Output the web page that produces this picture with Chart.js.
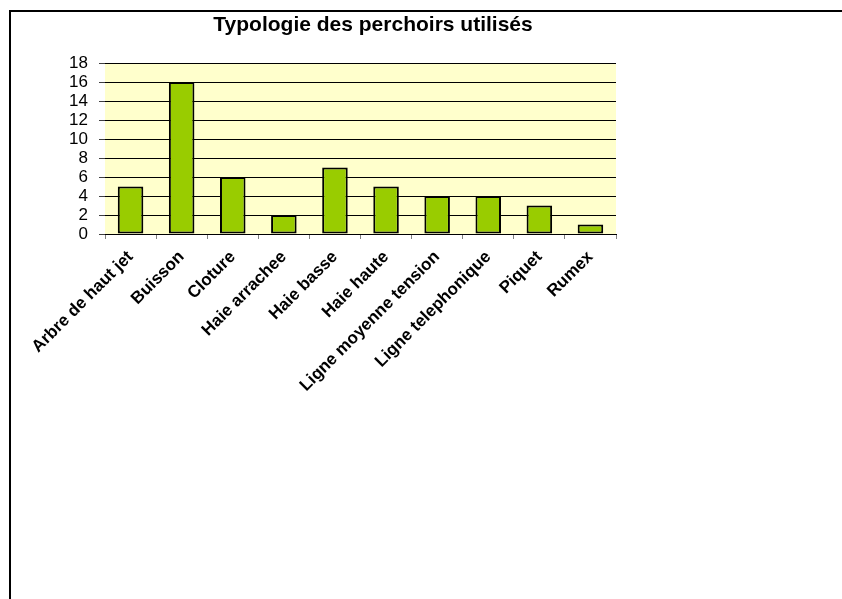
<!DOCTYPE html>
<html>
<head>
<meta charset="utf-8">
<script src="https://cdn.jsdelivr.net/npm/chart.js@4.4.0/dist/chart.umd.min.js"></script>
<style>
  html, body { margin: 0; padding: 0; background: #fff; overflow: hidden; }
  #frame { position: absolute; left: 9px; top: 10px; width: 900px; height: 700px;
           border-left: 2px solid #000; border-top: 2px solid #000; }
  #wrap { position: absolute; left: 0; top: 0; width: 842px; height: 599px; }
</style>
</head>
<body>
<div id="frame"></div>
<div id="wrap"><canvas id="perchoirs"></canvas></div>
<script>
var categories = ['Arbre de haut jet', 'Buisson', 'Cloture', 'Haie arrachee', 'Haie basse',
  'Haie haute', 'Ligne moyenne tension', 'Ligne telephonique', 'Piquet', 'Rumex'];
var counts = [5, 16, 6, 2, 7, 5, 4, 4, 3, 1];
var yTicks = [0, 2, 4, 6, 8, 10, 12, 14, 16, 18];
var chartTitle = 'Typologie des perchoirs utilisés';

// fond jaune de la zone de trace + titre
var plotBg = {
  id: 'plotBg',
  beforeDraw: function(chart) {
    var ctx = chart.ctx, a = chart.chartArea;
    ctx.save();
    ctx.fillStyle = '#FFFFCC';
    ctx.fillRect(a.left, a.top, a.right - a.left, a.bottom - a.top);
    ctx.restore();
  },
  afterDraw: function(chart) {
    var ctx = chart.ctx;
    ctx.save();
    ctx.font = 'bold 21px "Liberation Sans", Arial, sans-serif';
    ctx.fillStyle = '#000';
    ctx.textAlign = 'center';
    ctx.textBaseline = 'middle';
    ctx.fillText(chartTitle, 373, 25);
    ctx.restore();
  }
};

new Chart(document.getElementById('perchoirs'), {
  type: 'bar',
  data: {
    labels: categories,
    datasets: [{
      label: 'Perchoirs',
      data: counts,
      backgroundColor: '#99CC00',
      borderColor: '#000',
      borderWidth: 2,
      borderSkipped: false,
      categoryPercentage: 1,
      barPercentage: 0.5
    }]
  },
  options: {
    responsive: true,
    maintainAspectRatio: false,
    animation: false,
    layout: { padding: { left: 0, right: 226, top: 63, bottom: 0 } },
    plugins: {
      legend: { display: false },
      title: { display: false },
      tooltip: { enabled: false }
    },
    scales: {
      x: {
        grid: { offset: true, drawOnChartArea: false, tickLength: 5, tickColor: '#808080' },
        border: { color: '#000', width: 1 },
        ticks: {
          color: '#000',
          minRotation: 45,
          maxRotation: 45,
          autoSkip: false,
          padding: 8,
          font: { family: '"Liberation Sans", Arial, sans-serif', size: 17, weight: 'bold' }
        },
        afterFit: function(scale) { scale.height = 365; }
      },
      y: {
        min: 0,
        max: 18,
        afterBuildTicks: function(scale) {
          scale.ticks = yTicks.map(function(v) { return { value: v }; });
        },
        grid: { color: '#000', lineWidth: 1, tickLength: 6, tickColor: '#404040' },
        border: { display: false },
        ticks: {
          color: '#000',
          autoSkip: false,
          padding: 11,
          font: { family: '"Liberation Sans", Arial, sans-serif', size: 17, lineHeight: 1 }
        },
        afterFit: function(scale) { scale.width = 105; }
      }
    }
  },
  plugins: [plotBg]
});
</script>
</body>
</html>
